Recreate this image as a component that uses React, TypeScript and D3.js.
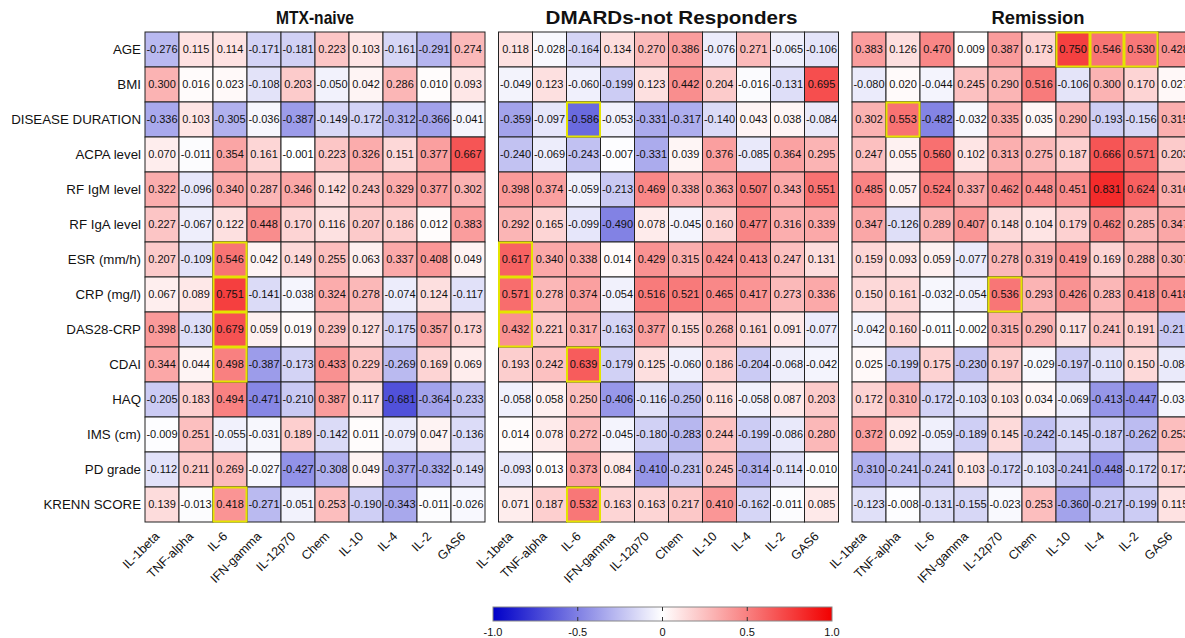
import React from "react";
import * as d3 from "d3";

const rows = ["AGE", "BMI", "DISEASE DURATION", "ACPA level", "RF IgM level", "RF IgA level", "ESR (mm/h)", "CRP (mg/l)", "DAS28-CRP", "CDAI", "HAQ", "IMS (cm)", "PD grade", "KRENN SCORE"];
const cols = ["IL-1beta", "TNF-alpha", "IL-6", "IFN-gamma", "IL-12p70", "Chem", "IL-10", "IL-4", "IL-2", "GAS6"];
const panels = ["MTX-naive", "DMARDs-not Responders", "Remission"];

const mtxNaive = [
  [-0.276, 0.115, 0.114, -0.171, -0.181, 0.223, 0.103, -0.161, -0.291, 0.274],
  [0.300, 0.016, 0.023, -0.108, 0.203, -0.050, 0.042, 0.286, 0.010, 0.093],
  [-0.336, 0.103, -0.305, -0.036, -0.387, -0.149, -0.172, -0.312, -0.366, -0.041],
  [0.070, -0.011, 0.354, 0.161, -0.001, 0.223, 0.326, 0.151, 0.377, 0.667],
  [0.322, -0.096, 0.340, 0.287, 0.346, 0.142, 0.243, 0.329, 0.377, 0.302],
  [0.227, -0.067, 0.122, 0.448, 0.170, 0.116, 0.207, 0.186, 0.012, 0.383],
  [0.207, -0.109, 0.546, 0.042, 0.149, 0.255, 0.063, 0.337, 0.408, 0.049],
  [0.067, 0.089, 0.751, -0.141, -0.038, 0.324, 0.278, -0.074, 0.124, -0.117],
  [0.398, -0.130, 0.679, 0.059, 0.019, 0.239, 0.127, -0.175, 0.357, 0.173],
  [0.344, 0.044, 0.498, -0.387, -0.173, 0.433, 0.229, -0.269, 0.169, 0.069],
  [-0.205, 0.183, 0.494, -0.471, -0.210, 0.387, 0.117, -0.681, -0.364, -0.233],
  [-0.009, 0.251, -0.055, -0.031, 0.189, -0.142, 0.011, -0.079, 0.047, -0.136],
  [-0.112, 0.211, 0.269, -0.027, -0.427, -0.308, 0.049, -0.377, -0.332, -0.149],
  [0.139, -0.013, 0.418, -0.271, -0.051, 0.253, -0.190, -0.343, -0.011, -0.026],
];

const dmardsNotResponders = [
  [0.118, -0.028, -0.164, 0.134, 0.270, 0.386, -0.076, 0.271, -0.065, -0.106],
  [-0.049, 0.123, -0.060, -0.199, 0.123, 0.442, 0.204, -0.016, -0.131, 0.695],
  [-0.359, -0.097, -0.586, -0.053, -0.331, -0.317, -0.140, 0.043, 0.038, -0.084],
  [-0.240, -0.069, -0.243, -0.007, -0.331, 0.039, 0.376, -0.085, 0.364, 0.295],
  [0.398, 0.374, -0.059, -0.213, 0.469, 0.338, 0.363, 0.507, 0.343, 0.551],
  [0.292, 0.165, -0.099, -0.490, 0.078, -0.045, 0.160, 0.477, 0.316, 0.339],
  [0.617, 0.340, 0.338, 0.014, 0.429, 0.315, 0.424, 0.413, 0.247, 0.131],
  [0.571, 0.278, 0.374, -0.054, 0.516, 0.521, 0.465, 0.417, 0.273, 0.336],
  [0.432, 0.221, 0.317, -0.163, 0.377, 0.155, 0.268, 0.161, 0.091, -0.077],
  [0.193, 0.242, 0.639, -0.179, 0.125, -0.060, 0.186, -0.204, -0.068, -0.042],
  [-0.058, 0.058, 0.250, -0.406, -0.116, -0.250, 0.116, -0.058, 0.087, 0.203],
  [0.014, 0.078, 0.272, -0.045, -0.180, -0.283, 0.244, -0.199, -0.086, 0.280],
  [-0.093, 0.013, 0.373, 0.084, -0.410, -0.231, 0.245, -0.314, -0.114, -0.010],
  [0.071, 0.187, 0.532, 0.163, 0.163, 0.217, 0.410, -0.162, -0.011, 0.085],
];

const remission = [
  [0.383, 0.126, 0.470, 0.009, 0.387, 0.173, 0.750, 0.546, 0.530, 0.428],
  [-0.080, 0.020, -0.044, 0.245, 0.290, 0.516, -0.106, 0.300, 0.170, 0.027],
  [0.302, 0.553, -0.482, -0.032, 0.335, 0.035, 0.290, -0.193, -0.156, 0.315],
  [0.247, 0.055, 0.560, 0.102, 0.313, 0.275, 0.187, 0.666, 0.571, 0.203],
  [0.485, 0.057, 0.524, 0.337, 0.462, 0.448, 0.451, 0.831, 0.624, 0.316],
  [0.347, -0.126, 0.289, 0.407, 0.148, 0.104, 0.179, 0.462, 0.285, 0.347],
  [0.159, 0.093, 0.059, -0.077, 0.278, 0.319, 0.419, 0.169, 0.288, 0.307],
  [0.150, 0.161, -0.032, -0.054, 0.536, 0.293, 0.426, 0.283, 0.418, 0.418],
  [-0.042, 0.160, -0.011, -0.002, 0.315, 0.290, 0.117, 0.241, 0.191, -0.217],
  [0.025, -0.199, 0.175, -0.230, 0.197, -0.029, -0.197, -0.110, 0.150, -0.084],
  [0.172, 0.310, -0.172, -0.103, 0.103, 0.034, -0.069, -0.413, -0.447, -0.034],
  [0.372, 0.092, -0.059, -0.189, 0.145, -0.242, -0.145, -0.187, -0.262, 0.253],
  [-0.310, -0.241, -0.241, 0.103, -0.172, -0.103, -0.241, -0.448, -0.172, 0.172],
  [-0.123, -0.008, -0.131, -0.155, -0.023, 0.253, -0.360, -0.217, -0.199, 0.115],
];

const panelData = [mtxNaive, dmardsNotResponders, remission];

// highlighted cells: [panel, row, col]
const highlights = [
  [0, 6, 2], [0, 7, 2], [0, 8, 2], [0, 9, 2], [0, 13, 2],
  [1, 2, 2], [1, 6, 0], [1, 7, 0], [1, 8, 0], [1, 9, 2], [1, 13, 2],
  [2, 0, 6], [2, 0, 7], [2, 0, 8], [2, 2, 1], [2, 7, 4],
];

const colorTicks = [-1.0, -0.5, 0, 0.5, 1.0];

const W = 1185;
const H = 638;
const FONT = "'Liberation Sans', Arial, Helvetica, sans-serif";

export default function App() {
  const panelX = d3.scaleLinear().domain([0, 2]).range([145, 852]);
  const panelW = 340;
  const x = d3.scaleBand<string>().domain(cols).range([0, panelW]);
  const y = d3.scaleBand<string>().domain(rows).range([32, 522]);
  const color = d3
    .scaleLinear<string>()
    .domain([-1, 0, 1])
    .range(["#0000c8", "#ffffff", "#f20000"])
    .interpolate(d3.interpolateRgb)
    .clamp(true);

  const cb = d3.scaleLinear().domain([-1, 1]).range([493, 832]);
  const cbY = 607;
  const cbH = 14;
  const gradStops = d3.range(-1, 1.0001, 0.1);
  const titleOffsets = [0, 3, 16];
  const titleLengths = [78, 252, 93];

  return (
    <svg
      width={W}
      height={H}
      style={{ position: "absolute", left: 0, top: 0, background: "#fff" }}
      fontFamily={FONT}
    >
      <defs>
        <linearGradient id="cbgrad" x1="0%" x2="100%" y1="0%" y2="0%">
          {gradStops.map((v, i) => (
            <stop key={i} offset={`${((v + 1) / 2) * 100}%`} stopColor={color(v)} />
          ))}
        </linearGradient>
      </defs>

      {/* row labels */}
      {rows.map((r) => (
        <text
          key={r}
          x={141}
          y={(y(r) as number) + y.bandwidth() / 2}
          dy="0.35em"
          textAnchor="end"
          fontSize={13.3}
          fill="#111"
        >
          {r}
        </text>
      ))}

      {panels.map((p, pi) => {
        const x0 = panelX(pi);
        const data = panelData[pi];
        return (
          <g key={p}>
            <text
              x={x0 + panelW / 2 + titleOffsets[pi]}
              y={24}
              textAnchor="middle"
              fontSize={19}
              fontWeight="bold"
              textLength={titleLengths[pi]}
              lengthAdjust="spacingAndGlyphs"
              fill="#111"
            >
              {p}
            </text>
            {data.map((row, ri) =>
              row.map((v, ci) => {
                const cx = x0 + (x(cols[ci]) as number);
                const cy = y(rows[ri]) as number;
                return (
                  <g key={`${ri}-${ci}`}>
                    <rect
                      x={cx}
                      y={cy}
                      width={x.bandwidth()}
                      height={y.bandwidth()}
                      fill={color(v)}
                      stroke="#222"
                      strokeWidth={1}
                    />
                    <text
                      x={cx + x.bandwidth() / 2}
                      y={cy + y.bandwidth() / 2}
                      dy="0.36em"
                      textAnchor="middle"
                      fontSize={11}
                      fill="#111"
                    >
                      {v.toFixed(3)}
                    </text>
                  </g>
                );
              })
            )}
            {cols.map((c) => {
              const cx = x0 + (x(c) as number) + x.bandwidth() / 2;
              return (
                <text
                  key={c}
                  transform={`translate(${cx - 5},${534}) rotate(-45)`}
                  textAnchor="end"
                  dy="0.35em"
                  fontSize={12.5}
                  fill="#111"
                >
                  {c}
                </text>
              );
            })}
          </g>
        );
      })}

      {/* highlight boxes */}
      {highlights.map(([pi, ri, ci], i) => (
        <rect
          key={i}
          x={panelX(pi) + (x(cols[ci]) as number) + 0.5}
          y={(y(rows[ri]) as number) + 0.5}
          width={x.bandwidth() - 1}
          height={y.bandwidth() - 1}
          fill="none"
          stroke="#e4e400"
          strokeWidth={2}
        />
      ))}

      {/* colorbar */}
      <rect x={cb(-1)} y={cbY} width={cb(1) - cb(-1)} height={cbH} fill="url(#cbgrad)" stroke="#888" strokeWidth={1} />
      {colorTicks.map((t) => (
        <g key={t}>
          {t > -1 && t < 1 && (
            <>
              <line x1={cb(t)} x2={cb(t)} y1={cbY} y2={cbY + 4} stroke="#333" strokeWidth={1} />
              <line x1={cb(t)} x2={cb(t)} y1={cbY + cbH - 4} y2={cbY + cbH} stroke="#333" strokeWidth={1} />
            </>
          )}
          <text x={cb(t)} y={636} textAnchor="middle" fontSize={11} fill="#111">
            {t === 0 ? "0" : t.toFixed(1)}
          </text>
        </g>
      ))}
    </svg>
  );
}
